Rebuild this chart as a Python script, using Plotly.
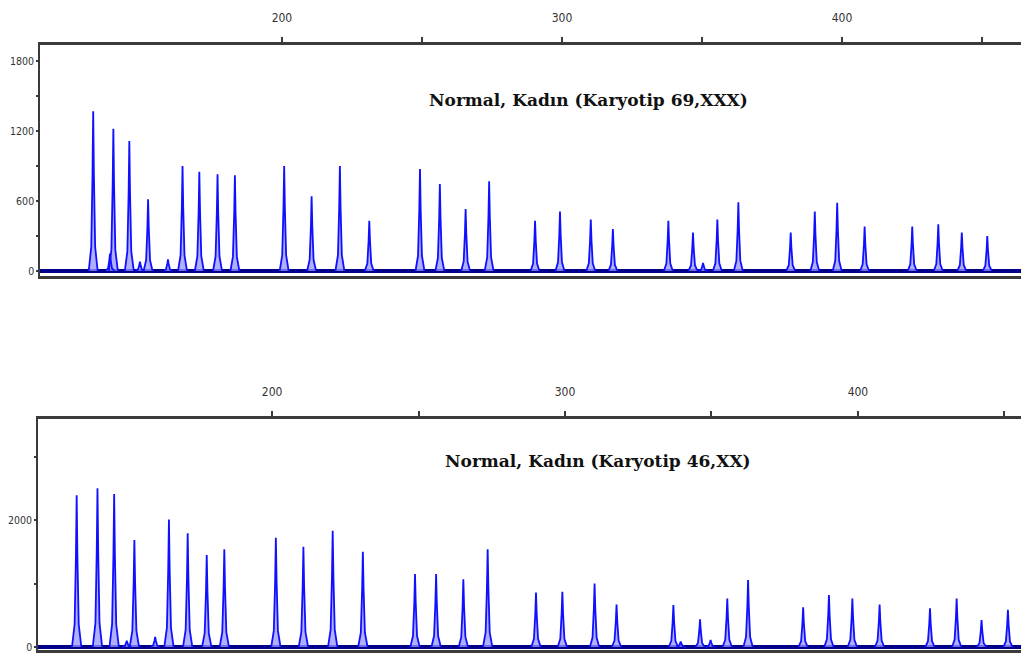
import plotly.graph_objects as go

# ---- Panel 1: Normal, Kadın (Karyotip 69,XXX) ----
top_size = [132.6, 138.6, 139.8, 145.5, 149.3, 152.2, 159.3, 164.5, 170.5, 177.0, 183.2,
            200.8, 210.6, 220.7, 231.2, 249.3, 256.4, 265.6, 274.0, 290.4, 299.3,
            310.3, 318.2, 338.0, 346.8, 350.4, 355.5, 363.0, 381.7, 390.3, 398.3,
            408.1, 425.1, 434.4, 442.8, 451.9]
top_height = [1370, 150, 1220, 1115, 80, 615, 100, 900, 850, 830, 820,
              900, 640, 900, 430, 875, 745, 530, 770, 430, 510,
              440, 360, 430, 330, 70, 440, 590, 330, 510, 585,
              380, 380, 400, 330, 300]

# ---- Panel 2: Normal, Kadın (Karyotip 46,XX) ----
bot_size = [133.3, 140.4, 146.1, 150.4, 153.0, 160.1, 164.8, 171.2, 177.7, 183.7,
            201.3, 210.7, 220.7, 231.0, 248.8, 256.0, 265.3, 273.6, 290.1, 299.1,
            310.1, 317.6, 337.0, 339.5, 346.1, 349.7, 355.4, 362.5, 381.3, 390.1,
            398.1, 407.4, 424.6, 433.7, 442.2, 451.2]
bot_height = [2390, 2500, 2410, 100, 1685, 160, 2010, 1790, 1450, 1540,
              1720, 1580, 1830, 1500, 1150, 1150, 1065, 1540, 860, 870,
              1000, 670, 660, 85, 435, 110, 765, 1055, 625, 820,
              765, 670, 610, 765, 425, 585]

top_title = "Normal, Kadın (Karyotip 69,XXX)"
bot_title = "Normal, Kadın (Karyotip 46,XX)"

top_xticks = [200, 250, 300, 350, 400, 450]
top_xtext = ["200", "", "300", "", "400", ""]
top_yticks = [0, 300, 600, 900, 1200, 1500, 1800]
top_ytext = ["0", "", "600", "", "1200", "", "1800"]
bot_xticks = [200, 250, 300, 350, 400, 450]
bot_xtext = ["200", "", "300", "", "400", ""]
bot_yticks = [0, 1000, 2000, 3000]
bot_ytext = ["0", "", "2000", ""]

# ---- geometry / style ----
OFF = 8  # page body margin in the browser
W, H = 1029 - OFF, 662 - OFF
TOP_X = [113.6, 466.8]
TOP_Y = [-43, 1937]
BOT_X = [120.1, 458.4]
BOT_Y = [-47, 3591]


def px(v):
    return (v - OFF) / W


def py(v):
    return 1 - (v - OFF) / H


top_dom_x = [px(40), 1]
top_dom_y = [py(276), py(45)]
bot_dom_x = [px(38), 1]
bot_dom_y = [py(650), py(419)]

PEAK = "#1010ff"
FILL = "rgba(150,150,255,0.75)"
BASE = "#00008b"
AX = "#3a3a3a"
xtickfont = dict(family="Liberation Sans Narrow, DejaVu Sans Condensed, Arial", size=12, color="#333")
ytickfont = dict(family="Liberation Sans Narrow, DejaVu Sans Condensed, Arial", size=10.5, color="#333")
titlefont = dict(family="DejaVu Serif, Liberation Serif, serif", size=17, color="#111")


def peak_path(sizes, heights):
    xs, ys = [], []
    for s, h in zip(sizes, heights):
        xs += [s - 1.6, s - 0.7, s - 0.25, s, s + 0.25, s + 0.7, s + 1.6, None]
        ys += [0, 0.15 * h, 0.6 * h, h, 0.6 * h, 0.15 * h, 0, None]
    return xs, ys


fig = go.Figure()
tx, ty = peak_path(top_size, top_height)
fig.add_trace(go.Scatter(x=tx, y=ty, mode="lines", fill="toself", fillcolor=FILL,
                         line=dict(color=PEAK, width=1.8), xaxis="x", yaxis="y",
                         hoverinfo="skip", showlegend=False))
bx, by = peak_path(bot_size, bot_height)
fig.add_trace(go.Scatter(x=bx, y=by, mode="lines", fill="toself", fillcolor=FILL,
                         line=dict(color=PEAK, width=1.8), xaxis="x2", yaxis="y2",
                         hoverinfo="skip", showlegend=False))


def xax(dom, rng, anchor, tv, tt, ticks, labels, line):
    return dict(domain=dom, range=rng, anchor=anchor, side="top",
                tickvals=tv, ticktext=tt, ticks=ticks, ticklen=5, tickwidth=1.5,
                tickcolor=AX, showticklabels=labels, tickfont=xtickfont,
                ticklabelstandoff=10,
                showline=line, linecolor=AX, linewidth=2.5, mirror=line,
                showgrid=False, zeroline=False, fixedrange=True)


def yax(dom, rng, anchor, tv, tt, ticks, labels, line):
    return dict(domain=dom, range=rng, anchor=anchor, side="left",
                tickvals=tv, ticktext=tt, ticks=ticks, ticklen=2, tickwidth=1.5,
                tickcolor=AX, showticklabels=labels, tickfont=ytickfont,
                showline=line, linecolor=AX, linewidth=1.5,
                showgrid=False, zeroline=line, zerolinecolor=BASE, zerolinewidth=3.5,
                fixedrange=True)


fig.update_layout(
    width=W, height=H, margin=dict(l=0, r=0, t=0, b=0),
    paper_bgcolor="white", plot_bgcolor="white", showlegend=False,
    xaxis=xax(top_dom_x, TOP_X, "y", top_xticks, top_xtext, "outside", True, True),
    yaxis=yax(top_dom_y, TOP_Y, "x", top_yticks, top_ytext, "outside", True, True),
    xaxis2=xax(bot_dom_x, BOT_X, "y2", bot_xticks, bot_xtext, "outside", True, True),
    yaxis2=yax(bot_dom_y, BOT_Y, "x2", bot_yticks, bot_ytext, "outside", True, True),
    # overlay axes that add the inner half of the crossing tick marks
    xaxis3=dict(xax(top_dom_x, TOP_X, "y", top_xticks, top_xtext, "inside", False, False), overlaying="x"),
    yaxis3=dict(yax(top_dom_y, TOP_Y, "x", top_yticks, top_ytext, "inside", False, False), overlaying="y"),
    xaxis4=dict(xax(bot_dom_x, BOT_X, "y2", bot_xticks, bot_xtext, "inside", False, False), overlaying="x2"),
    yaxis4=dict(yax(bot_dom_y, BOT_Y, "x2", bot_yticks, bot_ytext, "inside", False, False), overlaying="y2"),
    annotations=[
        dict(text="<b>" + top_title + "</b>", xref="paper", yref="paper",
             x=px(588), y=py(88), showarrow=False, font=titlefont),
        dict(text="<b>" + bot_title + "</b>", xref="paper", yref="paper",
             x=px(598), y=py(473), showarrow=False, font=titlefont),
    ],
)
fig.update_xaxes(automargin=False)
fig.update_yaxes(automargin=False)

fig.write_html("out.html")
